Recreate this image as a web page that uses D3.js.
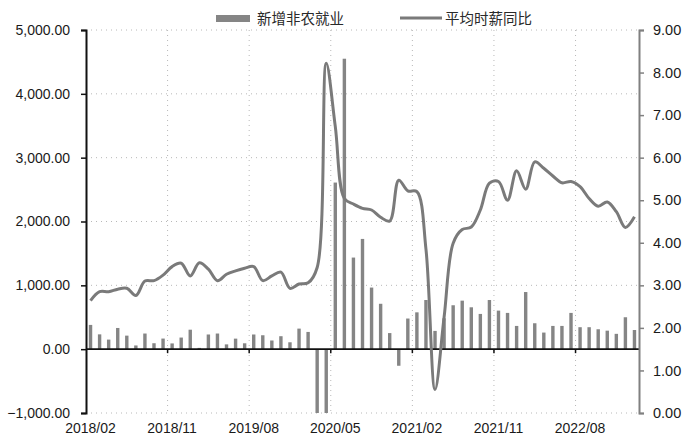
<!DOCTYPE html>
<html>
<head>
<meta charset="utf-8">
<title>新增非农就业 与 平均时薪同比</title>
<style>
body { margin: 0; background-color: #ffffff; }
svg text { font-family: "Liberation Sans", Arial, "Noto Sans CJK SC", sans-serif; }
</style>
</head>
<body>
<script src="https://cdn.jsdelivr.net/npm/d3@7"></script>
<script>

// months 2018/02 .. 2023/02
var months = [];
for (var y = 2018; y <= 2023; y++) {
  for (var m = 1; m <= 12; m++) {
    if ((y == 2018 && m < 2) || (y == 2023 && m > 2)) continue;
    months.push(y + "/" + (m < 10 ? "0" + m : m));
  }
}

var tickLabels = ["2018/02", "2018/11", "2019/08", "2020/05", "2021/02", "2021/11", "2022/08"];

// 新增非农就业 (thousands)
var payrolls = [
  380, 232, 150, 332, 212, 58, 245, 93, 166, 90, 182, 305,
  20, 230, 245, 75, 165, 92, 230, 218, 136, 203, 108, 322,
  270, -1400, -20500, 2610, 4550, 1435, 1727, 965, 711, 252, -260, 480,
  577, 770, 286, 484, 688, 760, 656, 552, 770, 604, 568, 364,
  895, 406, 260, 364, 364, 568, 344, 344, 312, 290, 240, 500,
  300
];

// 平均时薪同比 (%)
var wageYoY = [
  2.64, 2.85, 2.85, 2.91, 2.93, 2.76, 3.10, 3.11, 3.24, 3.44, 3.52, 3.22,
  3.53, 3.38, 3.11, 3.26, 3.34, 3.40, 3.44, 3.11, 3.22, 3.31, 2.93, 3.03,
  3.06, 3.42, 8.22, 6.73, 5.04, 4.91, 4.81, 4.77, 4.60, 4.51, 5.47, 5.22,
  5.20, 3.85, 0.55, 2.25, 3.99, 4.31, 4.37, 4.77, 5.40, 5.44, 5.00, 5.69,
  5.26, 5.90, 5.75, 5.57, 5.41, 5.44, 5.32, 5.04, 4.86, 4.96, 4.73, 4.36,
  4.61
];

var leftTicks = [-1000, 0, 1000, 2000, 3000, 4000, 5000];
var rightTicks = [0, 1, 2, 3, 4, 5, 6, 7, 8, 9];

var w = 700, h = 446;
var x0 = 86, x1 = 639, yTop = 30, yBot = 413;

var svg = d3.select("body").append("svg")
  .attr("width", w)
  .attr("height", h);

var x = d3.scaleBand().domain(months).range([x0, x1]).padding(0);
var yL = d3.scaleLinear().domain([-1000, 5000]).range([yBot, yTop]).clamp(true);
var yR = d3.scaleLinear().domain([0, 9]).range([yBot, yTop]);

// gridlines
svg.append("g").selectAll("line")
  .data(leftTicks.filter(function(d) { return d != 0; }))
  .enter().append("line")
  .attr("x1", x0).attr("x2", x1)
  .attr("y1", function(d) { return yL(d); })
  .attr("y2", function(d) { return yL(d); })
  .attr("stroke", "#b8b8b8")
  .attr("stroke-width", 1)
  .attr("stroke-dasharray", "1,4");

svg.append("g").selectAll("line")
  .data(tickLabels.slice(1))
  .enter().append("line")
  .attr("x1", function(d) { return x(d); })
  .attr("x2", function(d) { return x(d); })
  .attr("y1", yTop).attr("y2", yBot)
  .attr("stroke", "#b8b8b8")
  .attr("stroke-width", 1)
  .attr("stroke-dasharray", "1,4");

// bars
var bw = 3.4;
svg.append("g").selectAll("rect")
  .data(payrolls)
  .enter().append("rect")
  .attr("x", function(d, i) { return x(months[i]) + x.bandwidth() / 2 - bw / 2; })
  .attr("y", function(d) { return Math.min(yL(d), yL(0)); })
  .attr("width", bw)
  .attr("height", function(d) { return Math.abs(yL(d) - yL(0)); })
  .attr("fill", "#858585");

// zero axis with category ticks
svg.append("line")
  .attr("x1", x0).attr("x2", x1)
  .attr("y1", yL(0)).attr("y2", yL(0))
  .attr("stroke", "#111").attr("stroke-width", 1.8);

svg.append("g").selectAll("line")
  .data(tickLabels.slice(1))
  .enter().append("line")
  .attr("x1", function(d) { return x(d); })
  .attr("x2", function(d) { return x(d); })
  .attr("y1", yL(0)).attr("y2", yL(0) + 4)
  .attr("stroke", "#111").attr("stroke-width", 1.5);

// x labels at bottom
svg.append("g").selectAll("text")
  .data(tickLabels)
  .enter().append("text")
  .text(function(d) { return d; })
  .attr("x", function(d) { return x(d) + x.bandwidth() / 2; })
  .attr("y", 433)
  .attr("text-anchor", "middle")
  .attr("font-size", "14px")
  .attr("fill", "#1a1a1a");

// line
var line = d3.line()
  .x(function(d, i) { return x(months[i]) + x.bandwidth() / 2; })
  .y(function(d) { return yR(d); })
  .curve(d3.curveCatmullRom.alpha(0.5));

svg.append("path")
  .datum(wageYoY)
  .attr("d", line)
  .attr("fill", "none")
  .attr("stroke", "#7a7a7a")
  .attr("stroke-width", 3);

// left axis
var axL = svg.append("g")
  .attr("transform", "translate(" + x0 + ",0)")
  .call(d3.axisLeft(yL).tickValues(leftTicks).tickFormat(d3.format(",.2f")).tickSize(5).tickPadding(11));
axL.select(".domain").attr("stroke", "#111").attr("stroke-width", 2);
axL.selectAll(".tick line").attr("stroke", "#111").attr("stroke-width", 1.5);
axL.selectAll("text").attr("font-size", "14px").attr("fill", "#1a1a1a")
  .attr("font-family", "Liberation Sans, Arial, sans-serif");

// right axis
var axR = svg.append("g")
  .attr("transform", "translate(" + x1 + ",0)")
  .call(d3.axisRight(yR).tickValues(rightTicks).tickFormat(d3.format(".2f")).tickSize(5).tickPadding(9));
axR.select(".domain").attr("stroke", "#808080").attr("stroke-width", 2);
axR.selectAll(".tick line").attr("stroke", "#808080").attr("stroke-width", 1.5);
axR.selectAll("text").attr("font-size", "14.5px").attr("fill", "#1a1a1a")
  .attr("font-family", "Liberation Sans, Arial, sans-serif");

// legend
var lg = svg.append("g");
lg.append("rect")
  .attr("x", 216).attr("y", 15).attr("width", 34).attr("height", 7)
  .attr("fill", "#858585");
lg.append("text")
  .text("新增非农就业")
  .attr("x", 257).attr("y", 24)
  .attr("font-size", "14.5px").attr("fill", "#2a2a2a")
  .attr("font-family", "Noto Sans CJK SC, sans-serif");
lg.append("line")
  .attr("x1", 400).attr("x2", 442).attr("y1", 18).attr("y2", 18)
  .attr("stroke", "#7a7a7a").attr("stroke-width", 3);
lg.append("text")
  .text("平均时薪同比")
  .attr("x", 445).attr("y", 24)
  .attr("font-size", "14.5px").attr("fill", "#2a2a2a")
  .attr("font-family", "Noto Sans CJK SC, sans-serif");

</script>
</body>
</html>
